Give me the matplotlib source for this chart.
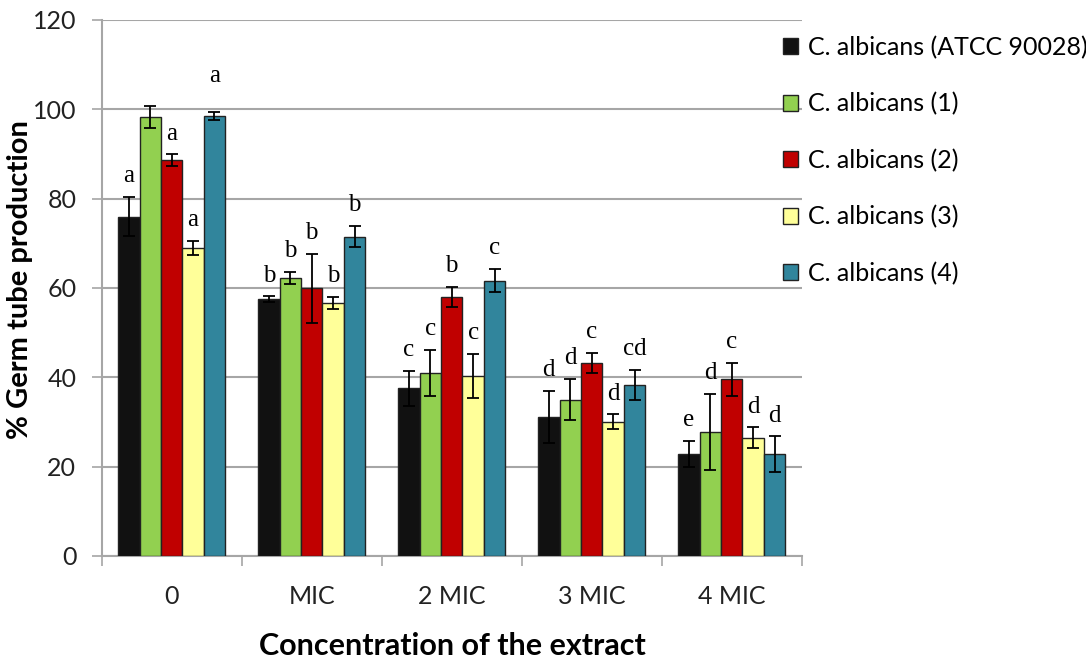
import numpy as np
import matplotlib.pyplot as plt
from matplotlib.ticker import FixedLocator, NullFormatter

#### Dados ####
concentracoes = ['0', 'MIC', '2 MIC', '3 MIC', '4 MIC']
cepas = ['C. albicans (ATCC 90028)', 'C. albicans (1)', 'C. albicans (2)',
         'C. albicans (3)', 'C. albicans (4)']

atcc = [76.0, 57.5, 37.5, 31.2, 22.9]
atcc_err = [4.4, 0.6, 4.0, 5.8, 2.9]
cepa1 = [98.3, 62.3, 41.0, 35.0, 27.8]
cepa1_err = [2.4, 1.3, 5.2, 4.6, 8.5]
cepa2 = [88.6, 59.9, 58.0, 43.2, 39.6]
cepa2_err = [1.3, 7.7, 2.3, 2.3, 3.7]
cepa3 = [68.9, 56.7, 40.3, 30.1, 26.5]
cepa3_err = [1.6, 1.3, 5.0, 1.6, 2.3]
cepa4 = [98.5, 71.5, 61.6, 38.3, 22.8]
cepa4_err = [1.0, 2.4, 2.6, 3.3, 4.0]

letras_atcc = ['a', 'b', 'c', 'd', 'e']
letras_1 = ['', 'b', 'c', 'd', 'd']
letras_2 = ['a', 'b', 'b', 'c', 'c']
letras_3 = ['a', 'b', 'c', 'd', 'd']
letras_4 = ['a', 'b', 'c', 'cd', 'd']

cores = ['#111111', '#92d050', '#c00000', '#ffff99', '#31859c']

valores = [atcc, cepa1, cepa2, cepa3, cepa4]
erros = [atcc_err, cepa1_err, cepa2_err, cepa3_err, cepa4_err]
letras = [letras_atcc, letras_1, letras_2, letras_3, letras_4]

FONTE = 'Lato'

#### Gráfico ####
fig = plt.figure(figsize=(10.86, 6.59), dpi=100)
ax = fig.add_axes([0.0936, 0.1563, 0.6446, 0.8134])

x = np.arange(len(concentracoes))
largura = 0.153
for i in range(5):
    pos = x + (i - 2) * largura
    ax.bar(pos, valores[i], largura, color=cores[i], edgecolor='#222222',
           linewidth=1.0, label=cepas[i], zorder=3)
    ax.errorbar(pos, valores[i], yerr=erros[i], fmt='none', ecolor='black',
                elinewidth=1.3, capsize=4.5, capthick=1.3, zorder=4)
    for p, v, e, l in zip(pos, valores[i], erros[i], letras[i]):
        if not l:
            continue
        extra = 18 if (i == 4 and l == 'a') else 7
        ax.annotate(l, (p, v + e), xytext=(0, extra), textcoords='offset points',
                    ha='center', va='bottom', fontsize=18,
                    family='Liberation Serif', zorder=5)

ax.set_xlim(-0.5, 4.5)
ax.set_ylim(0, 120)
ax.set_yticks(range(0, 121, 20))
ax.yaxis.grid(True, color='#a6a6a6', linewidth=1.5, zorder=0)
ax.set_axisbelow(True)

ax.xaxis.set_major_locator(FixedLocator(np.arange(-0.5, 5.0, 1.0)))
ax.xaxis.set_major_formatter(NullFormatter())
ax.xaxis.set_minor_locator(FixedLocator(x))
ax.set_xticklabels(concentracoes, minor=True)
ax.tick_params(axis='x', which='major', length=7.2, width=1.2, color='#a6a6a6', direction='out')
ax.tick_params(axis='x', which='minor', length=0, pad=21, labelsize=18)
ax.tick_params(axis='y', length=7.2, width=1.2, color='#a6a6a6', labelsize=18, pad=11)
for lbl in ax.get_xticklabels(minor=True) + ax.get_yticklabels():
    lbl.set_family(FONTE)
    lbl.set_color('#222222')

for lado in ['top', 'right']:
    ax.spines[lado].set_visible(False)
for lado in ['left', 'bottom']:
    ax.spines[lado].set_color('#a6a6a6')
    ax.spines[lado].set_linewidth(1.5)

fig.text(0.018, 0.576, '% Germ tube production', fontsize=21, fontweight='bold',
         family=FONTE, rotation=90, ha='center', va='center')
fig.text(0.417, 0.006, 'Concentration of the extract', fontsize=22,
         fontweight='bold', family=FONTE, ha='center', va='baseline')

ax.legend(loc='upper left', bbox_to_anchor=(0.721, 0.946), bbox_transform=fig.transFigure,
          frameon=False, borderpad=0, borderaxespad=0, handlelength=0.6,
          handleheight=0.6, handletextpad=0.4, labelspacing=1.33,
          prop={'family': FONTE, 'size': 18})

plt.savefig('out.png', dpi=100)
plt.close()
